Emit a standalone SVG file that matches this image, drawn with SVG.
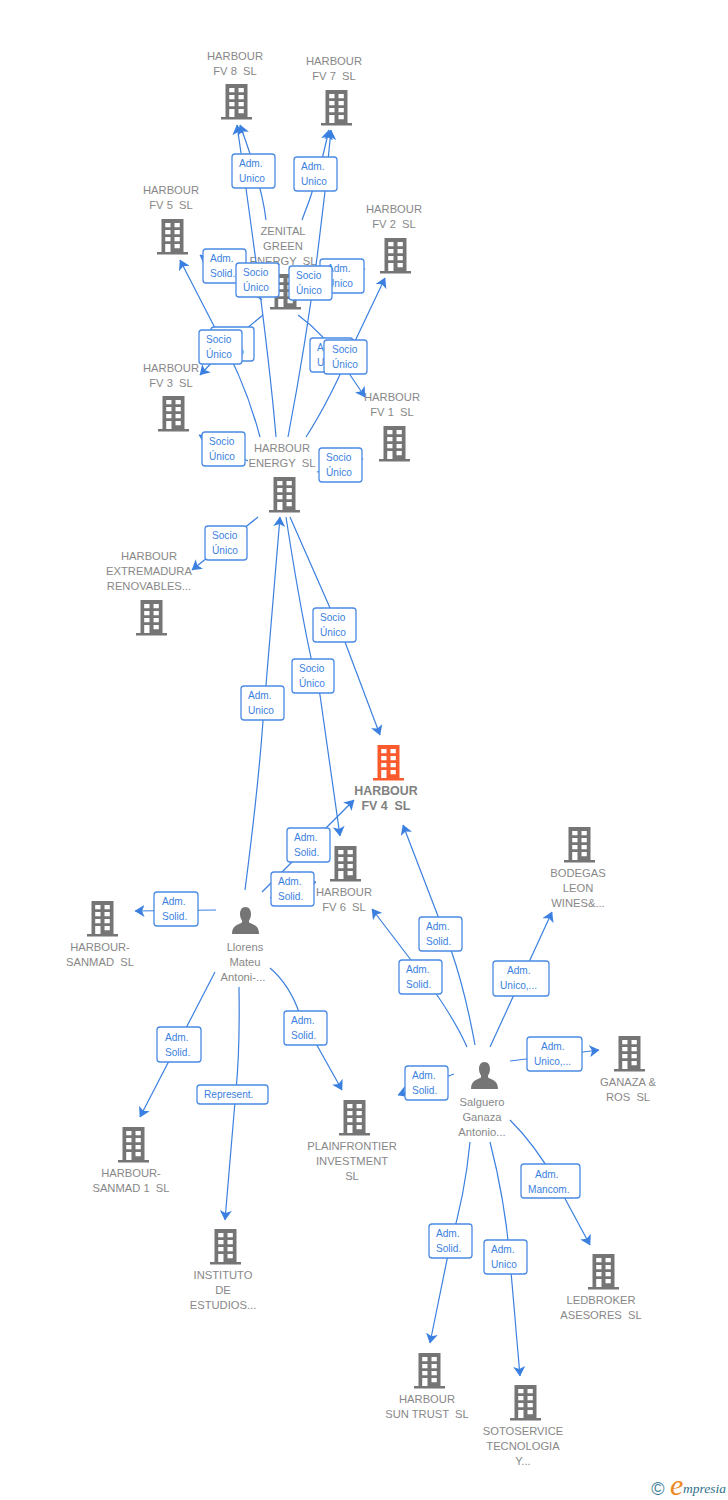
<svg xmlns="http://www.w3.org/2000/svg" xmlns:xlink="http://www.w3.org/1999/xlink" width="728" height="1500" viewBox="0 0 728 1500">
<style>
text{font-family:"Liberation Sans",Arial,sans-serif;white-space:pre}
.l{font-size:11.2px;fill:#888;text-anchor:middle}
.m{font-size:12.4px;fill:#808080;text-anchor:middle;font-weight:bold}
.c path{fill:none;stroke:#3b80e0;stroke-width:1.2;marker-end:url(#a)}
.b rect{fill:#fff;stroke:#4a8ae4;stroke-width:1.3;rx:3px}
.b text{font-size:10.1px;fill:#3b7fe0}
</style>
<defs>
<marker id="a" markerUnits="userSpaceOnUse" viewBox="0 0 10 12" refX="9.500" refY="6" markerWidth="10" markerHeight="12" orient="auto"><path d="M10,6L0,0L2.500,6L0,12Z" fill="#3b80e0"/></marker>
<g id="bd"><path fill-rule="evenodd" d="M-10.500,0H11.500V33H-10.500ZM-6.800,4V8.300H-1.500V4ZM2.500,4V8.300H7.800V4ZM-6.800,11V15.300H-1.500V11ZM2.500,11V15.300H7.800V11ZM-6.800,18V22.300H-1.500V18ZM2.500,18V22.300H7.800V18ZM-6.800,25V33H-1.500V25ZM2.500,25V29.300H7.800V25Z"/><rect x="-15" y="33" width="31" height="2.500"/></g>
<g id="pr"><path d="M0,0C3.500,0 5.500,2.800 5.500,7C5.500,10 4.500,12 3.500,13.500V15.500C7,17.500 13.500,18 13.500,27H-13.500C-13.500,18 -7,17.500 -3.500,15.500V13.500C-4.500,12 -5.500,10 -5.500,7C-5.500,2.800 -3.500,0 0,0Z"/></g>
</defs>
<rect width="728" height="1500" fill="#fff"/>
<g id="nodes" fill="#757575">
<g id="n-fv8"><use href="#bd" x="236" y="84"/><text class="l" x="235" y="60">HARBOUR</text><text class="l" x="235" y="75">FV 8  SL</text></g>
<g id="n-fv7"><use href="#bd" x="336" y="90"/><text class="l" x="334" y="65">HARBOUR</text><text class="l" x="334" y="80">FV 7  SL</text></g>
<g id="n-fv5"><use href="#bd" x="172" y="219"/><text class="l" x="171" y="194">HARBOUR</text><text class="l" x="171" y="209">FV 5  SL</text></g>
<g id="n-fv2"><use href="#bd" x="395" y="238"/><text class="l" x="394" y="213">HARBOUR</text><text class="l" x="394" y="228">FV 2  SL</text></g>
<g id="n-zenital"><use href="#bd" x="285" y="274"/><text class="l" x="283" y="235">ZENITAL</text><text class="l" x="283" y="250">GREEN</text><text class="l" x="283" y="265">ENERGY  SL</text></g>
<g id="n-fv3"><use href="#bd" x="173" y="396"/><text class="l" x="171" y="372">HARBOUR</text><text class="l" x="171" y="387">FV 3  SL</text></g>
<g id="n-fv1"><use href="#bd" x="394" y="426"/><text class="l" x="392" y="401">HARBOUR</text><text class="l" x="392" y="416">FV 1  SL</text></g>
<g id="n-energy"><use href="#bd" x="284" y="477"/><text class="l" x="282" y="452">HARBOUR</text><text class="l" x="282" y="467">ENERGY  SL</text></g>
<g id="n-extremadura"><use href="#bd" x="151" y="600"/><text class="l" x="149" y="560">HARBOUR</text><text class="l" x="149" y="575">EXTREMADURA</text><text class="l" x="149" y="590">RENOVABLES...</text></g>
<g id="n-fv4"><use href="#bd" x="388" y="745" fill="#fb5a2c"/><text class="m" x="386" y="795">HARBOUR</text><text class="m" x="386" y="810">FV 4  SL</text></g>
<g id="n-fv6"><use href="#bd" x="345" y="846"/><text class="l" x="344" y="896">HARBOUR</text><text class="l" x="344" y="911">FV 6  SL</text></g>
<g id="n-bodegas"><use href="#bd" x="579" y="827"/><text class="l" x="578" y="877">BODEGAS</text><text class="l" x="578" y="892">LEON</text><text class="l" x="578" y="907">WINES&amp;...</text></g>
<g id="n-ganaza"><use href="#bd" x="629" y="1036"/><text class="l" x="628" y="1086">GANAZA &amp;</text><text class="l" x="628" y="1101">ROS  SL</text></g>
<g id="n-sanmad"><use href="#bd" x="102" y="901"/><text class="l" x="100" y="951">HARBOUR-</text><text class="l" x="100" y="966">SANMAD  SL</text></g>
<g id="n-sanmad1"><use href="#bd" x="133" y="1127"/><text class="l" x="131" y="1177">HARBOUR-</text><text class="l" x="131" y="1192">SANMAD 1  SL</text></g>
<g id="n-plain"><use href="#bd" x="354" y="1100"/><text class="l" x="352" y="1150">PLAINFRONTIER</text><text class="l" x="352" y="1165">INVESTMENT</text><text class="l" x="352" y="1180">SL</text></g>
<g id="n-instituto"><use href="#bd" x="225" y="1229"/><text class="l" x="223" y="1279">INSTITUTO</text><text class="l" x="223" y="1294">DE</text><text class="l" x="223" y="1309">ESTUDIOS...</text></g>
<g id="n-ledbroker"><use href="#bd" x="603" y="1254"/><text class="l" x="601" y="1304">LEDBROKER</text><text class="l" x="601" y="1319">ASESORES  SL</text></g>
<g id="n-suntrust"><use href="#bd" x="429" y="1353"/><text class="l" x="427" y="1403">HARBOUR</text><text class="l" x="427" y="1418">SUN TRUST  SL</text></g>
<g id="n-soto"><use href="#bd" x="525" y="1385"/><text class="l" x="523" y="1435">SOTOSERVICE</text><text class="l" x="523" y="1450">TECNOLOGIA</text><text class="l" x="523" y="1465">Y...</text></g>
<g id="n-llorens"><use href="#pr" x="245.500" y="907"/><text class="l" x="245" y="951">Llorens</text><text class="l" x="245" y="966">Mateu</text><text class="l" x="243" y="981">Antoni-...</text></g>
<g id="n-salguero"><use href="#pr" x="484.500" y="1062"/><text class="l" x="482" y="1106">Salguero</text><text class="l" x="482" y="1121">Ganaza</text><text class="l" x="482" y="1136">Antonio...</text></g>
</g>
<g id="connectors" class="c">
<path d="M266,220Q262,185 240,125"/>
<path d="M276,437Q268,340 237,125"/>
<path d="M302,220Q318,180 329,130"/>
<path d="M288,437Q318,280 331,130"/>
<path d="M263,315L235,338L200,375"/>
<path d="M260,437Q245,380 215,328L180,260"/>
<path d="M262,300L200,255"/>
<path d="M330,280L365,269"/>
<path d="M306,437Q330,400 356,339L385,278"/>
<path d="M298,315Q325,335 340,360L365,397"/>
<path d="M248,461L199,435"/>
<path d="M317,472L363,459"/>
<path d="M258,517L192,570"/>
<path d="M290,517Q318,580 345,642L380,735"/>
<path d="M286,517Q305,640 320,695L340,836"/>
<path d="M245,890Q258,790 263,721L280,517"/>
<path d="M262,892L354,800"/>
<path d="M270,898L316,882"/>
<path d="M216,910L135,911"/>
<path d="M215,972L140,1117"/>
<path d="M239,987Q240,1050 236,1090L225,1220"/>
<path d="M270,968Q290,985 300,1015L342,1090"/>
<path d="M475,1045Q465,990 451,950L403,825"/>
<path d="M467,1047Q455,1020 430,985L372,909"/>
<path d="M490,1047L552,912"/>
<path d="M510,1061L599,1050"/>
<path d="M454,1074L398,1095"/>
<path d="M510,1120Q535,1145 555,1180L590,1245"/>
<path d="M470,1142Q465,1195 450,1245L430,1343"/>
<path d="M490,1142Q505,1200 510,1260L520,1376"/>
</g>
<g id="edge-labels" class="b">
<g><rect x="232" y="154" width="43" height="34"/><text x="239" y="167">Adm.</text><text x="239" y="182">Unico</text></g>
<g><rect x="294" y="157" width="43" height="34"/><text x="301" y="170">Adm.</text><text x="301" y="185">Unico</text></g>
<g><rect x="203" y="249" width="43" height="34"/><text x="210" y="262">Adm.</text><text x="210" y="277">Solid.</text></g>
<g><rect x="320" y="259" width="44" height="34"/><text x="327" y="272">Adm.</text><text x="327" y="287">Unico</text></g>
<g><rect x="236" y="263" width="43" height="34"/><text x="243" y="276">Socio</text><text x="243" y="291">Único</text></g>
<g><rect x="289" y="266" width="43" height="34"/><text x="296" y="279">Socio</text><text x="296" y="294">Único</text></g>
<g><rect x="211" y="327" width="43" height="34"/><text x="218" y="340">Adm.</text><text x="218" y="355">Unico</text></g>
<g><rect x="199" y="330" width="43" height="34"/><text x="206" y="343">Socio</text><text x="206" y="358">Único</text></g>
<g><rect x="310" y="338" width="43" height="34"/><text x="317" y="351">Adm.</text><text x="317" y="366">Unico</text></g>
<g><rect x="324" y="340" width="43" height="34"/><text x="332" y="353">Socio</text><text x="332" y="368">Único</text></g>
<g><rect x="202" y="432" width="43" height="34"/><text x="209" y="445">Socio</text><text x="209" y="460">Único</text></g>
<g><rect x="319" y="448" width="43" height="34"/><text x="326" y="461">Socio</text><text x="326" y="476">Único</text></g>
<g><rect x="205" y="526" width="42" height="34"/><text x="212" y="539">Socio</text><text x="212" y="554">Único</text></g>
<g><rect x="313" y="608" width="43" height="34"/><text x="320" y="621">Socio</text><text x="320" y="636">Único</text></g>
<g><rect x="292" y="659" width="42" height="34"/><text x="299" y="672">Socio</text><text x="299" y="687">Único</text></g>
<g><rect x="241" y="686" width="43" height="34"/><text x="248" y="699">Adm.</text><text x="248" y="714">Unico</text></g>
<g><rect x="287" y="828" width="43" height="34"/><text x="294" y="841">Adm.</text><text x="294" y="856">Solid.</text></g>
<g><rect x="271" y="872" width="43" height="34"/><text x="278" y="885">Adm.</text><text x="278" y="900">Solid.</text></g>
<g><rect x="154" y="892" width="44" height="34"/><text x="162" y="905">Adm.</text><text x="162" y="920">Solid.</text></g>
<g><rect x="419" y="917" width="43" height="34"/><text x="426" y="930">Adm.</text><text x="426" y="945">Solid.</text></g>
<g><rect x="399" y="960" width="43" height="34"/><text x="406" y="973">Adm.</text><text x="406" y="988">Solid.</text></g>
<g><rect x="493" y="961" width="56" height="35"/><text x="507" y="974">Adm.</text><text x="500" y="989">Unico,...</text></g>
<g><rect x="527" y="1037" width="55" height="34"/><text x="541" y="1050">Adm.</text><text x="534" y="1065">Unico,...</text></g>
<g><rect x="284" y="1011" width="43" height="34"/><text x="291" y="1024">Adm.</text><text x="291" y="1039">Solid.</text></g>
<g><rect x="157" y="1027" width="44" height="35"/><text x="165" y="1041">Adm.</text><text x="165" y="1056">Solid.</text></g>
<g><rect x="405" y="1066" width="43" height="34"/><text x="412" y="1079">Adm.</text><text x="412" y="1094">Solid.</text></g>
<g><rect x="197" y="1085" width="71" height="19"/><text x="204" y="1098">Represent.</text></g>
<g><rect x="521" y="1164" width="59" height="34"/><text x="535" y="1178">Adm.</text><text x="528" y="1193">Mancom.</text></g>
<g><rect x="429" y="1224" width="43" height="34"/><text x="436" y="1237">Adm.</text><text x="436" y="1252">Solid.</text></g>
<g><rect x="484" y="1240" width="43" height="34"/><text x="491" y="1253">Adm.</text><text x="491" y="1268">Unico</text></g>
</g>
<g id="logo">
<text x="658" y="1495" text-anchor="middle" font-size="18" fill="#3f7f97">©</text>
<text x="670" y="1495" font-size="30" font-style="italic" fill="#f08a24" style="font-family:'Liberation Serif',serif">e</text>
<text x="683" y="1493" font-size="13.500" font-style="italic" fill="#2f6f8a" style="font-family:'Liberation Serif',serif">mpresia</text>
</g>
</svg>
